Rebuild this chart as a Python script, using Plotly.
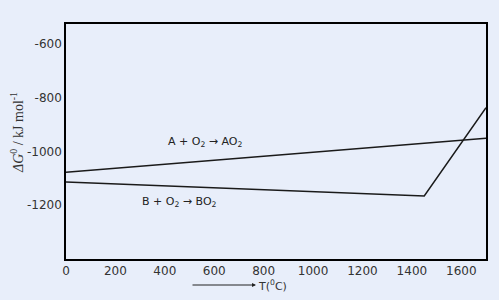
import plotly.graph_objects as go

# Data
T_A = [0, 1700]
G_A = [-1077, -950]
T_B = [0, 1450, 1700]
G_B = [-1113, -1165, -837]
x_ticks = [0, 200, 400, 600, 800, 1000, 1200, 1400, 1600]
y_ticks = [-600, -800, -1000, -1200]

BG = "#E8EEFA"

fig = go.Figure()
fig.add_trace(go.Scatter(x=T_A, y=G_A, mode="lines",
                         line=dict(color="#1a1a1a", width=1.5), showlegend=False))
fig.add_trace(go.Scatter(x=T_B, y=G_B, mode="lines",
                         line=dict(color="#1a1a1a", width=1.5), showlegend=False))

fig.add_annotation(x=563, y=-965, xref="x", yref="y",
                   text="A + O<sub>2</sub> → AO<sub>2</sub>", showarrow=False,
                   font=dict(family="DejaVu Sans", size=11, color="#222"))
fig.add_annotation(x=461, y=-1187, xref="x", yref="y",
                   text="B + O<sub>2</sub> → BO<sub>2</sub>", showarrow=False,
                   font=dict(family="DejaVu Sans", size=11, color="#222"))

fig.update_layout(
    width=499, height=300,
    margin=dict(l=66, r=13, t=24, b=41),
    paper_bgcolor=BG, plot_bgcolor=BG,
    font=dict(family="DejaVu Sans", size=12, color="#333"),
    xaxis=dict(range=[0, 1700], tickvals=x_ticks, ticktext=[str(v) for v in x_ticks],
               showgrid=False, zeroline=False, showline=True, mirror=True,
               linecolor="black", linewidth=1.5, ticks="", fixedrange=True),
    yaxis=dict(range=[-1400, -525], tickvals=y_ticks, ticktext=[str(v) for v in y_ticks],
               showgrid=False, zeroline=False, showline=True, mirror=True,
               linecolor="black", linewidth=1.5, ticks="", fixedrange=True),
)

# Arrow + T(0C) label (paper coords below the axis)
fig.add_annotation(xref="paper", yref="paper", x=(256 - 66) / 420, y=-(285 - 259) / 235,
                   ax=-65, ay=0,
                   showarrow=True, arrowhead=2, arrowsize=0.8, arrowwidth=1,
                   arrowcolor="#222", text="")
fig.add_annotation(xref="paper", yref="paper", x=(256 - 66) / 420, y=-(285 - 259) / 235,
                   xanchor="left", yanchor="middle", showarrow=False,
                   text="T(<sup>0</sup>C)", font=dict(family="DejaVu Sans", size=11, color="#333"))
# y-axis title
fig.add_annotation(xref="paper", yref="paper", x=-(66 - 17) / 420, y=(259 - 133) / 235,
                   textangle=-90, showarrow=False, xanchor="center", yanchor="middle",
                   text="<i>ΔG</i><sup>0</sup> / kJ mol<sup>-1</sup>",
                   font=dict(family="Liberation Serif", size=14, color="#333"))

fig.write_html("out.html")
